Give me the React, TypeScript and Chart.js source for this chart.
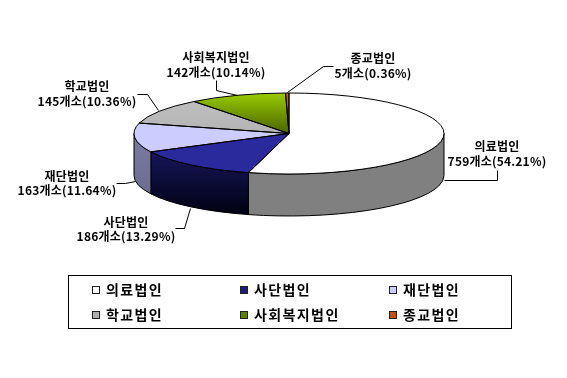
import React, { useEffect, useRef } from "react";
import { Chart, registerables } from "chart.js";

Chart.register(...registerables);

const categories = ["의료법인", "사단법인", "재단법인", "학교법인", "사회복지법인", "종교법인"];
const counts = [759, 186, 163, 145, 142, 5];
const shareLabels = ["54.21", "13.29", "11.64", "10.36", "10.14", "0.36"];
const topColors = ["#ffffff", "#3333b8", "#ccccff", "#c0c0c0", "#99cc00", "#cc6a10"];
const topDarkColors = ["#ffffff", "#2a2a9c", "#ccccff", "#b4b4b4", "#4a6300", "#8a3a00"];
const wallTopColors = ["#808080", "#1c1c70", "#7c7ca4", "#666666", "#4d6600", "#66300a"];
const wallBottomColors = ["#808080", "#000010", "#66668a", "#555555", "#3d5200", "#552808"];
const legendSwatch = ["#ffffff", "#1e1e78", "#ccccff", "#b0b0b0", "#5f7f00", "#c4500c"];

// Pie-space geometry (circle from Chart.js) and its on-page ellipse
const PIE_R = 155;
const PIE_CX = 289;
const PIE_CY_LAYOUT = 189;
const ELL_CY = 133.5;
const ELL_RY = 40.5;
const DEPTH = 42;
const K = ELL_RY / PIE_R;

const labelLayout = [
  { cx: 497, y1: 146, y2: 161, line: [[444, 180], [497, 180], [497, 170]] },
  { cx: 126, y1: 222, y2: 236, line: [[190, 208], [184, 228], [175, 228]] },
  { cx: 67, y1: 176, y2: 190, line: [[135, 181], [125, 183], [116, 183]] },
  { cx: 87, y1: 86, y2: 101, line: [[158, 110], [147, 94], [137, 94]] },
  { cx: 216, y1: 57, y2: 72, line: [[237, 95], [216, 90], [216, 80]] },
  { cx: 373, y1: 58, y2: 73, line: [[287, 92], [323, 66], [333, 66]] },
];
const legendBox = { l: 68.5, t: 275.5, r: 511.5, b: 328.5 };
const legendCols = [92, 240, 389];
const legendRows = [290, 315];

const KR = '"Noto Sans CJK KR", "Noto Sans", sans-serif';

const pie3d = {
  id: "pie3d",
  beforeDatasetsDraw(chart: any) {
    const { ctx } = chart;
    const arcs = chart.getDatasetMeta(0).data;
    const x = arcs[0].x;
    const rx = arcs[0].outerRadius;
    const ry = rx * K;
    const top = ELL_CY;
    ctx.save();
    ctx.lineWidth = 1;
    ctx.strokeStyle = "#000";
    arcs.forEach((a: any, i: number) => {
      const s = Math.max(a.startAngle, 0);
      const e = Math.min(a.endAngle, Math.PI);
      const s2 = a.startAngle - 2 * Math.PI;
      const e2 = a.endAngle - 2 * Math.PI;
      const spans: number[][] = [];
      if (e > s) spans.push([s, e]);
      const s3 = Math.max(s2, 0);
      const e3 = Math.min(e2, Math.PI);
      if (e3 > s3) spans.push([s3, e3]);
      spans.forEach(([p, q]) => {
        const g = ctx.createLinearGradient(0, top, 0, top + ry + DEPTH);
        g.addColorStop(0, wallTopColors[i]);
        g.addColorStop(1, wallBottomColors[i]);
        ctx.beginPath();
        ctx.ellipse(x, top, rx, ry, 0, p, q);
        ctx.ellipse(x, top + DEPTH, rx, ry, 0, q, p, true);
        ctx.closePath();
        ctx.fillStyle = g;
        ctx.fill();
        ctx.stroke();
      });
    });
    ctx.restore();
    ctx.save();
    ctx.translate(0, ELL_CY);
    ctx.scale(1, K);
    ctx.translate(0, -arcs[0].y);
  },
  afterDatasetsDraw(chart: any) {
    const { ctx } = chart;
    ctx.restore();
    const arcs = chart.getDatasetMeta(0).data;
    ctx.save();
    ctx.lineWidth = 1;
    ctx.strokeStyle = "#000";
    arcs.forEach((a: any) => {
      const rx = a.outerRadius;
      ctx.beginPath();
      ctx.moveTo(a.x, ELL_CY);
      ctx.ellipse(a.x, ELL_CY, rx, rx * K, 0, a.startAngle, a.endAngle);
      ctx.closePath();
      ctx.stroke();
    });
    ctx.restore();
  },
  afterDraw(chart: any) {
    const { ctx } = chart;
    const values = chart.data.datasets[0].data as number[];
    ctx.save();
    ctx.fillStyle = "#000";
    ctx.strokeStyle = "#000";
    ctx.lineWidth = 1;
    ctx.textAlign = "center";
    ctx.textBaseline = "middle";
    ctx.font = `bold 12px ${KR}`;
    (ctx as any).letterSpacing = "0.2px";
    labelLayout.forEach((l, i) => {
      ctx.beginPath();
      l.line.forEach(([px, py], j) => (j ? ctx.lineTo(px + 0.5, py + 0.5) : ctx.moveTo(px + 0.5, py + 0.5)));
      ctx.stroke();
      ctx.fillText(chart.data.labels[i], l.cx, l.y1);
      ctx.fillText(`${values[i]}개소(${shareLabels[i]}%)`, l.cx, l.y2);
    });
    // legend
    ctx.strokeRect(legendBox.l, legendBox.t, legendBox.r - legendBox.l, legendBox.b - legendBox.t);
    ctx.textAlign = "left";
    ctx.font = `bold 14px ${KR}`;
    (ctx as any).letterSpacing = "1.4px";
    categories.forEach((c, i) => {
      const col = legendCols[i % 3];
      const row = legendRows[Math.floor(i / 3)];
      ctx.fillStyle = legendSwatch[i];
      ctx.fillRect(col, row - 4, 8, 8);
      ctx.strokeStyle = "#222";
      ctx.strokeRect(col + 0.5, row - 3.5, 7, 7);
      ctx.fillStyle = "#000";
      ctx.fillText(c, col + 14, row);
    });
    ctx.restore();
  },
};

export default function App() {
  const ref = useRef<HTMLCanvasElement>(null);
  useEffect(() => {
    document.body.style.margin = "0";
    document.body.style.background = "#fff";
    const chart = new Chart(ref.current!, {
      type: "pie",
      data: {
        labels: categories,
        datasets: [
          {
            data: counts,
            borderWidth: 0,
            backgroundColor: (c: any) => {
              const i = c.dataIndex;
              if (i === undefined) return "#fff";
              const g = c.chart.ctx.createLinearGradient(0, PIE_CY_LAYOUT - PIE_R, 0, PIE_CY_LAYOUT);
              g.addColorStop(0, topColors[i]);
              g.addColorStop(1, topDarkColors[i]);
              return g;
            },
          },
        ],
      },
      plugins: [pie3d],
      options: {
        responsive: false,
        animation: false,
        layout: {
          padding: {
            left: PIE_CX - PIE_R,
            right: 567 - PIE_CX - PIE_R,
            top: PIE_CY_LAYOUT - PIE_R,
            bottom: 378 - PIE_CY_LAYOUT - PIE_R,
          },
        },
        plugins: { legend: { display: false }, tooltip: { enabled: false } },
      },
    } as any);
    return () => chart.destroy();
  }, []);
  return <canvas ref={ref} width={567} height={378} style={{ display: "block" }} />;
}
